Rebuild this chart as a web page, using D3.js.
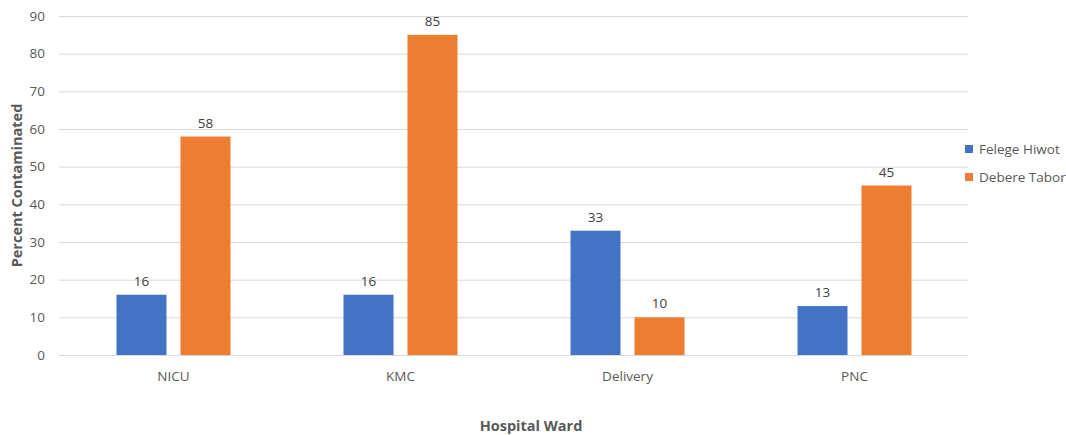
<!DOCTYPE html>
<html>
<head>
<meta charset="utf-8">
<script src="https://cdn.jsdelivr.net/npm/d3@7"></script>
<style>
  body { margin: 0; background: #fff; }
  svg text { font-family: "Open Sans", "Noto Sans", sans-serif; }
</style>
</head>
<body>
<div id="chart"></div>
<script>
// data
var wards = ["NICU", "KMC", "Delivery", "PNC"];
var seriesNames = ["Felege Hiwot", "Debere Tabor"];
var felegeHiwot = [16, 16, 33, 13];
var debereTabor = [58, 85, 10, 45];
var yTicks = [0, 10, 20, 30, 40, 50, 60, 70, 80, 90];
var colors = ["#4472C4", "#ED7D31"];

var width = 1066, height = 435;
var m = { top: 16, right: 98, bottom: 80, left: 60 };
var w = width - m.left - m.right,
    h = height - m.top - m.bottom;

var svg = d3.select("#chart").append("svg").attr("width", width).attr("height", height);
var g = svg.append("g").attr("transform", "translate(" + m.left + "," + m.top + ")");

var x = d3.scaleBand().domain(wards).range([0, w]);
var y = d3.scaleLinear().domain([0, 90]).range([h, 0]);
var barW = 50, gap = 14;

// gridlines
g.selectAll(".grid").data(yTicks).enter()
    .append("line")
    .attr("x1", -1).attr("x2", w)
    .attr("y1", function(d) { return y(d) + 0.5; })
    .attr("y2", function(d) { return y(d) + 0.5; })
    .attr("stroke", "#d9d9d9").attr("stroke-width", 1);

// y tick labels
g.selectAll(".ytick").data(yTicks).enter()
    .append("text")
    .attr("x", -15).attr("y", function(d) { return y(d); })
    .attr("dy", "0.35em").attr("text-anchor", "end")
    .attr("font-size", 13.5).attr("fill", "#595959")
    .text(function(d) { return d; });

// x category labels
g.selectAll(".xtick").data(wards).enter()
    .append("text")
    .attr("x", function(d) { return x(d) + x.bandwidth() / 2; })
    .attr("y", h + 26).attr("text-anchor", "middle")
    .attr("font-size", 13.5).attr("fill", "#595959")
    .text(function(d) { return d; });

var series = [felegeHiwot, debereTabor];
series.forEach(function(vals, si) {
    var off = si === 0 ? -(barW + gap / 2) : gap / 2;
    var rows = wards.map(function(k, i) { return { k: k, v: vals[i] }; });

    g.selectAll(".bar" + si).data(rows).enter()
        .append("rect")
        .attr("x", function(d) { return x(d.k) + x.bandwidth() / 2 + off; })
        .attr("y", function(d) { return y(d.v); })
        .attr("width", barW)
        .attr("height", function(d) { return h - y(d.v); })
        .attr("fill", colors[si]);

    g.selectAll(".lbl" + si).data(rows).enter()
        .append("text")
        .attr("x", function(d) { return x(d.k) + x.bandwidth() / 2 + off + barW / 2; })
        .attr("y", function(d) { return y(d.v) - 9; })
        .attr("text-anchor", "middle")
        .attr("font-size", 13.5).attr("fill", "#404040")
        .text(function(d) { return d.v; });
});

// axis titles
svg.append("text")
    .attr("transform", "translate(22," + (m.top + h / 2) + ") rotate(-90)")
    .attr("text-anchor", "middle")
    .attr("font-size", 14.5).attr("font-weight", "bold").attr("fill", "#595959")
    .text("Percent Contaminated");

svg.append("text")
    .attr("x", 531).attr("y", 431)
    .attr("text-anchor", "middle")
    .attr("font-size", 14.5).attr("font-weight", "bold").attr("fill", "#595959")
    .text("Hospital Ward");

// legend
var lg = svg.append("g").attr("transform", "translate(965,149)");
seriesNames.forEach(function(name, i) {
    lg.append("rect").attr("x", 0).attr("y", i * 28 - 4).attr("width", 8).attr("height", 8)
        .attr("fill", colors[i]);
    lg.append("text").attr("x", 14).attr("y", i * 28).attr("dy", "0.35em")
        .attr("font-size", 13.5).attr("fill", "#595959")
        .text(name);
});
</script>
</body>
</html>
